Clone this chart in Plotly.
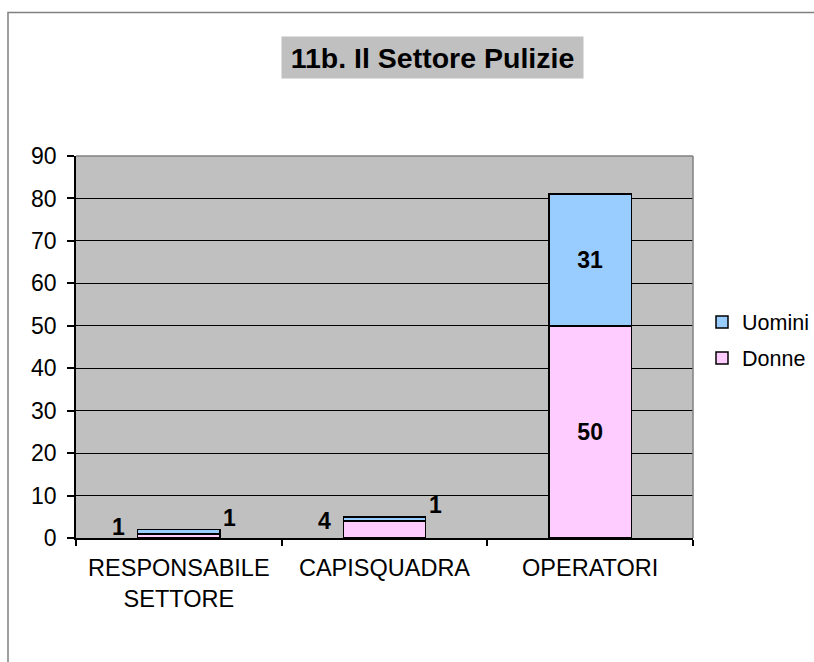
import plotly.graph_objects as go

categories = ["RESPONSABILE<br>SETTORE", "CAPISQUADRA", "OPERATORI"]
donne = [1, 4, 50]
uomini = [1, 1, 31]
y_ticks = [0, 10, 20, 30, 40, 50, 60, 70, 80, 90]
title_text = "11b. Il Settore Pulizie"

FONT = "Arial, Liberation Sans, sans-serif"
PINK = "#FFCCFF"
BLUE = "#99CCFF"
GREY_BG = "#C0C0C0"
BORDER = "#808080"
INSIDE_MIN = 10  # values below this get outside labels

W, H = 814, 662
L, R, T, B = 76, 121, 156, 124
plot_w = W - L - R
ph = H - T - B
bar_frac = 0.4
half_bar_px = bar_frac * plot_w / len(categories) / 2
LABEL_SIZE = 23


def inside_text(vals):
    return [str(v) if v >= INSIDE_MIN else "" for v in vals]


fig = go.Figure()
fig.add_trace(go.Bar(
    name="Donne", x=categories, y=donne, marker=dict(color=PINK, line=dict(color="black", width=1.5)),
    text=inside_text(donne), textposition="inside", insidetextanchor="middle", textangle=0,
    constraintext="none", textfont=dict(family=FONT, size=LABEL_SIZE, color="black", weight="bold"),
    legendgroup="d", legendrank=2, hoverinfo="x+y+name",
))
fig.add_trace(go.Bar(
    name="Uomini", x=categories, y=uomini, marker=dict(color=BLUE, line=dict(color="black", width=1.5)),
    text=inside_text(uomini), textposition="inside", insidetextanchor="middle", textangle=0,
    constraintext="none", textfont=dict(family=FONT, size=LABEL_SIZE, color="black", weight="bold"),
    legendgroup="u", legendrank=1, hoverinfo="x+y+name",
))

# outside labels for small segments
for c, d, u in zip(categories, donne, uomini):
    if d < INSIDE_MIN:
        fig.add_annotation(x=c, y=d / 2, text=f"<b>{d}</b>", showarrow=False,
                           xshift=-(half_bar_px + 19), yshift=9,
                           font=dict(family=FONT, size=LABEL_SIZE, color="black"))
    if u < INSIDE_MIN:
        fig.add_annotation(x=c, y=d + u, text=f"<b>{u}</b>", showarrow=False,
                           xshift=half_bar_px + 10, yshift=12,
                           font=dict(family=FONT, size=LABEL_SIZE, color="black"))

# title box
fig.add_annotation(
    xref="paper", yref="paper",
    x=(432.5 - L) / plot_w, y=(H - B - 57.5) / ph,
    xanchor="center", yanchor="middle",
    text=f"<b>{title_text}</b>", showarrow=False,
    font=dict(family=FONT, size=28.5, color="black"),
    bgcolor=GREY_BG, width=297, height=37, borderpad=2,
)

# outer chart border (left and top visible)
fig.add_shape(type="rect", xref="paper", yref="paper",
              x0=(8 - L) / plot_w, x1=(W + 20 - L) / plot_w,
              y0=(H - B - (H + 20)) / ph, y1=(H - B - 12.5) / ph,
              line=dict(color=BORDER, width=1.5), fillcolor="rgba(0,0,0,0)", layer="above")
# plot area grey border on top and right
fig.add_shape(type="line", xref="paper", yref="paper", x0=0, x1=1, y0=1, y1=1,
              line=dict(color=BORDER, width=1.5), layer="above")
fig.add_shape(type="line", xref="paper", yref="paper", x0=1, x1=1, y0=0, y1=1,
              line=dict(color=BORDER, width=1.5), layer="above")

fig.update_layout(
    width=W, height=H,
    margin=dict(l=L, r=R, t=T, b=B, autoexpand=False),
    paper_bgcolor="white", plot_bgcolor=GREY_BG,
    barmode="stack", bargap=0.6,
    font=dict(family=FONT, size=23, color="black"),
    showlegend=True,
    legend=dict(
        traceorder="grouped", tracegroupgap=5,
        x=(702 - L) / plot_w, xanchor="left",
        y=(H - B - 340) / ph, yanchor="middle",
        font=dict(family=FONT, size=21.5, color="black"),
        bgcolor="rgba(0,0,0,0)", borderwidth=0,
    ),
    xaxis=dict(
        showline=True, linecolor="black", linewidth=1.5,
        ticks="outside", tickson="boundaries", ticklen=6, tickcolor="black", tickwidth=1.5,
        ticklabelstandoff=8,
        tickfont=dict(family=FONT, size=23.5, color="black"),
        showgrid=False, fixedrange=True,
    ),
    yaxis=dict(
        range=[0, 90], tickvals=y_ticks, ticktext=[str(v) for v in y_ticks],
        showline=True, linecolor="black", linewidth=1.5,
        ticks="outside", ticklen=7, tickcolor="black", tickwidth=1.5,
        ticklabelstandoff=6,
        showgrid=True, gridcolor="black", gridwidth=1, zeroline=False,
        tickfont=dict(family=FONT, size=23, color="black"),
        fixedrange=True,
    ),
)

fig.write_html("out.html", config={"displayModeBar": False},
               post_script="document.body.style.margin='0';document.body.style.overflow='hidden';")
